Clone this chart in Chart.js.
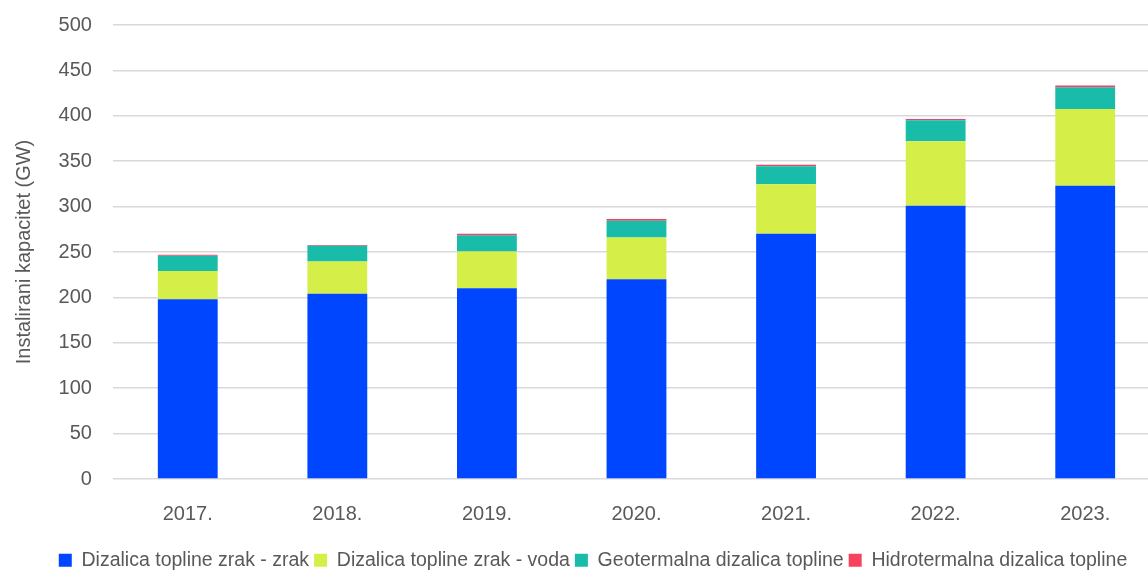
<!DOCTYPE html>
<html>
<head>
<meta charset="utf-8">
<title>Instalirani kapacitet dizalica topline</title>
<script src="https://cdn.jsdelivr.net/npm/chart.js@4.4.1/dist/chart.umd.min.js"></script>
<style>
    html, body { margin: 0; padding: 0; background: #fff; overflow: hidden; }
    #wrap { width: 1148px; height: 570px; overflow: hidden; }
</style>
</head>
<body>
<div id="wrap"><canvas id="heatPumps" width="1160" height="580"></canvas></div>
<script>
/* ============================================
   Instalirani kapacitet dizalica topline (GW)
   ============================================ */

const years = ['2017.', '2018.', '2019.', '2020.', '2021.', '2022.', '2023.'];

// GW
const zrakZrak      = [198, 204, 210, 220, 270, 301, 323];
const zrakVoda      = [31, 35.5, 40.5, 46, 54.5, 71, 84.5];
const geotermalna   = [17, 17.5, 18, 18.5, 20, 23, 24];
const hidrotermalna = [1, 0.8, 1.5, 1.8, 1.5, 1.5, 1.8];

const yTicks = [0, 50, 100, 150, 200, 250, 300, 350, 400, 450, 500];

const seriesNames = [
    'Dizalica topline zrak - zrak',
    'Dizalica topline zrak - voda',
    'Geotermalna dizalica topline',
    'Hidrotermalna dizalica topline'
];
const seriesColors = ['#0046ff', '#d6ef48', '#19bba9', '#f6425f'];

const textColor = '#595959';
const gridColor = '#d9d9d9';

Chart.defaults.font.family = "'Liberation Sans', Arial, sans-serif";
Chart.defaults.font.size = 20;
Chart.defaults.color = textColor;

// legend in the original sits a little right of the canvas centre
const legendShift = {
    id: 'legendShift',
    afterLayout(chart) {
        if (!chart.legend) return;
        chart.legend.left += 13;
        chart.legend.right += 13;
    }
};

const datasets = [zrakZrak, zrakVoda, geotermalna, hidrotermalna].map((data, i) => ({
    label: seriesNames[i],
    data,
    backgroundColor: seriesColors[i],
    borderWidth: 0,
    barPercentage: 0.4,
    categoryPercentage: 1
}));

new Chart(document.getElementById('heatPumps'), {
    type: 'bar',
    data: { labels: years, datasets },
    plugins: [legendShift],
    options: {
        responsive: false,
        animation: false,
        layout: { padding: { top: 25, left: 0, right: 0, bottom: 0 } },
        plugins: {
            tooltip: { enabled: false },
            legend: {
                position: 'bottom',
                labels: {
                    boxWidth: 13, boxHeight: 13, padding: 5,
                    color: textColor, font: { size: 19.5 }
                }
            }
        },
        scales: {
            x: {
                stacked: true,
                grid: { display: false },
                border: { display: false },
                ticks: { padding: 15, color: textColor, font: { size: 20 } },
                afterFit(axis) { axis.height = 66.5; }
            },
            y: {
                stacked: true,
                min: 0, max: 500,
                afterBuildTicks(axis) { axis.ticks = yTicks.map(v => ({ value: v })); },
                // tick padding would otherwise push the plot top down
                afterFit(axis) { axis.paddingTop = 0; },
                grid: { color: gridColor, lineWidth: 1.5, drawTicks: false },
                border: { display: false },
                ticks: { padding: 21, color: textColor, font: { size: 20 } },
                title: {
                    display: true,
                    text: 'Instalirani kapacitet (GW)',
                    color: textColor,
                    font: { size: 20 },
                    padding: { top: 12, bottom: 1.6 }
                }
            }
        }
    }
});
</script>
</body>
</html>
